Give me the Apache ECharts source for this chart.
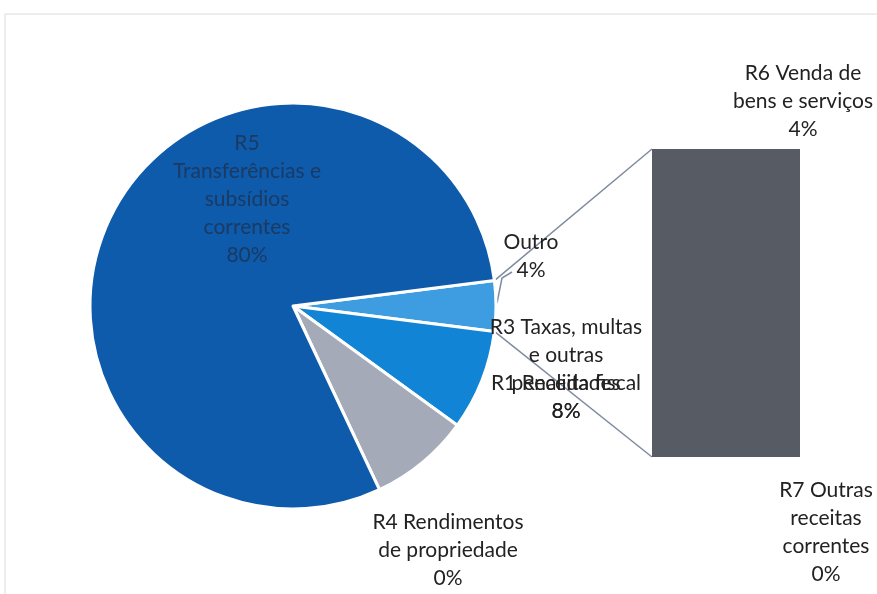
<!DOCTYPE html>
<html>
<head>
<meta charset="utf-8">
<style>
  html, body { margin: 0; padding: 0; background: #fff; }
  #chart { width: 877px; height: 594px; }
</style>
<script src="https://cdn.jsdelivr.net/npm/echarts@6/dist/echarts.min.js"></script>
</head>
<body>
<div id="chart"></div>
<script>
// pie: "Outro" first so it sits on the right, then clockwise
const pieNames = ['Outro', 'R1 Receita fiscal', 'R3 Taxas, multas\ne outras\npenalidades', 'R4 Rendimentos\nde propriedade', 'R5\nTransferências e\nsubsídios\ncorrentes'];
const pieValues = [4, 8, 8, 0, 80];
const pieColors = ['#3d9de0', '#1284d6', '#a5aab8', '#8a8f9c', '#0d5baa'];

// secondary bar (the "Outro" breakdown)
const barNames = ['R6 Venda de\nbens e serviços', 'R7 Outras\nreceitas\ncorrentes'];
const barValues = [4, 0];

const FONT = 'Lato';
const FS = 21, LH = 28;
const center = [293, 306];
const radius = 203;
// label anchors (top-center) for each pie slice
const pieLabelPos = [[531, 228], [566, 369], [566, 313], [448, 508], [247, 129]];

const chart = echarts.init(document.getElementById('chart'));

// connector lines from the Outro slice edges to the bar corners
const total = pieValues.reduce((a, b) => a + b, 0);
const half = pieValues[0] / total * 180;
const rad = a => a * Math.PI / 180;
const edgeTop = [center[0] + radius * Math.cos(rad(half)), center[1] - radius * Math.sin(rad(half))];
const edgeBot = [center[0] + radius * Math.cos(rad(-half)), center[1] - radius * Math.sin(rad(-half))];
const barBox = { left: 652, top: 149, width: 148, height: 308 };
const lineCol = '#7f8ba0';

const option = {
    animation: false,
    textStyle: { fontFamily: FONT },
    graphic: [
        { type: 'line', shape: { x1: 5, y1: 14, x2: 877, y2: 14 }, style: { stroke: '#dcdcdc', lineWidth: 1 } },
        { type: 'line', shape: { x1: 5, y1: 14, x2: 5, y2: 594 }, style: { stroke: '#dcdcdc', lineWidth: 1 } },
        { type: 'line', z: 1, shape: { x1: edgeTop[0], y1: edgeTop[1], x2: barBox.left, y2: barBox.top }, style: { stroke: lineCol, lineWidth: 1.5 } },
        { type: 'line', z: 1, shape: { x1: edgeBot[0], y1: edgeBot[1], x2: barBox.left, y2: barBox.top + barBox.height }, style: { stroke: lineCol, lineWidth: 1.5 } },
        // leader for the "Outro" label
        { type: 'polyline', z: 1, shape: { points: [[center[0] + radius + 1, center[1] - 3], [502, 278], [512, 272]] }, style: { stroke: lineCol, lineWidth: 1.5, fill: null } }
    ],
    grid: { left: barBox.left, top: barBox.top, width: barBox.width, height: barBox.height },
    xAxis: { type: 'category', data: ['Outro'], show: false },
    yAxis: { type: 'value', min: 0, max: 4, show: false },
    series: [
        {
            type: 'pie',
            center: center,
            radius: radius,
            startAngle: half,
            clockwise: true,
            avoidLabelOverlap: false,
            itemStyle: { borderColor: '#fff', borderWidth: 3 },
            label: {
                show: true,
                position: 'outside',
                formatter: p => p.name + '\n' + p.value + '%',
                fontSize: FS,
                lineHeight: LH,
                color: '#222',
                align: 'center'
            },
            labelLine: { show: false },
            labelLayout: p => ({
                x: pieLabelPos[p.dataIndex][0],
                y: pieLabelPos[p.dataIndex][1],
                align: 'center',
                verticalAlign: 'top'
            }),
            data: pieNames.map((n, i) => {
                const d = { name: n, value: pieValues[i], itemStyle: { color: pieColors[i] } };
                if (i === 4) d.label = { color: '#1b3a64' };
                return d;
            })
        },
        {
            type: 'bar',
            name: barNames[1],
            stack: 'o',
            barWidth: '100%',
            data: [barValues[1]],
            itemStyle: { color: '#575c64' },
            label: {
                show: true, position: 'bottom', distance: 19, offset: [100, 0],
                formatter: p => barNames[1] + '\n' + p.value + '%',
                fontSize: FS, lineHeight: LH, color: '#222', align: 'center'
            }
        },
        {
            type: 'bar',
            name: barNames[0],
            stack: 'o',
            barWidth: '100%',
            data: [barValues[0]],
            itemStyle: { color: '#575c64' },
            label: {
                show: true, position: 'top', distance: 6, offset: [77, 0],
                formatter: p => barNames[0] + '\n' + p.value + '%',
                fontSize: FS, lineHeight: LH, color: '#222', align: 'center'
            }
        }
    ]
};
chart.setOption(option);
</script>
</body>
</html>
